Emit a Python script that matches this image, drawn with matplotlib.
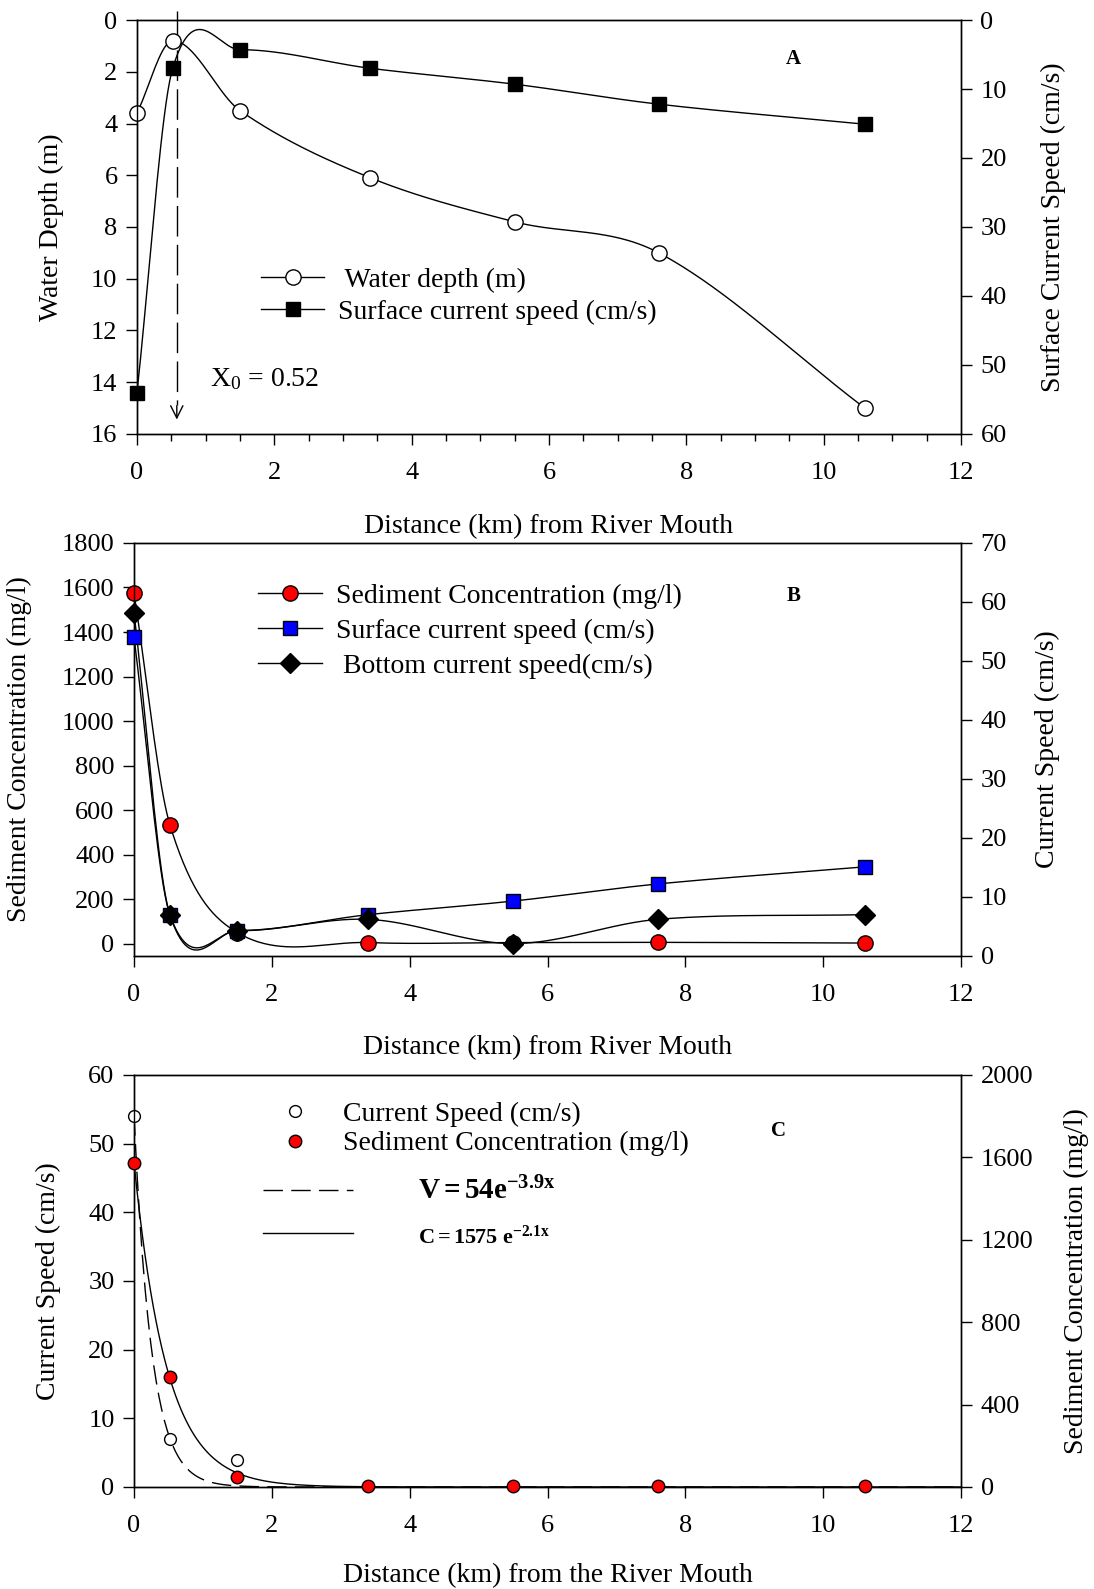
import numpy as np
import matplotlib
matplotlib.use("Agg")
from matplotlib import pyplot as plt
from matplotlib.lines import Line2D

plt.rcParams['font.family'] = ['Liberation Serif', 'DejaVu Serif']
plt.rcParams['mathtext.fontset'] = 'custom'
plt.rcParams['mathtext.rm'] = 'Liberation Serif'
plt.rcParams['mathtext.bf'] = 'Liberation Serif:bold'
plt.rcParams['mathtext.it'] = 'Liberation Serif:italic'
plt.rcParams['axes.linewidth'] = 1.0

# stations (km from river mouth)
dist = [0, 0.52, 1.5, 3.4, 5.5, 7.6, 10.6]
depth = [3.6, 0.8, 3.5, 6.1, 7.8, 9.0, 15.0]
surf_speed = [54, 7, 4.3, 7, 9.3, 12.2, 15.1]
bott_speed = [58.2, 7, 4.3, 6.2, 2.1, 6.2, 7]
sediment = [1575, 535, 50, 5, 5, 6, 3]

# panel C
dist_v = [0, 0.52, 1.5]
speed_c = [54, 7, 4]
v0, kv = 54, 3.9
c0, kc = 1575, 2.1
x0 = 0.58

TICK = 19
LAB = 20


def spline(x, y, n=400):
    # cubic hermite through the points, tangents from neighbours
    x = np.asarray(x, float)
    y = np.asarray(y, float)
    k = len(x)
    m = np.empty(k)
    m[0] = (y[1] - y[0]) / (x[1] - x[0])
    m[-1] = (y[-1] - y[-2]) / (x[-1] - x[-2])
    m[1:-1] = (y[2:] - y[:-2]) / (x[2:] - x[:-2])
    xs = np.linspace(x[0], x[-1], n)
    idx = np.clip(np.searchsorted(x, xs) - 1, 0, k - 2)
    h = x[idx + 1] - x[idx]
    t = (xs - x[idx]) / h
    h00 = 2 * t**3 - 3 * t**2 + 1
    h10 = t**3 - 2 * t**2 + t
    h01 = -2 * t**3 + 3 * t**2
    h11 = t**3 - t**2
    ys = h00 * y[idx] + h10 * h * m[idx] + h01 * y[idx + 1] + h11 * h * m[idx + 1]
    return xs, ys


def style(ax, ax2):
    for a in (ax, ax2):
        a.tick_params(direction='out', length=8, width=1, labelsize=TICK, pad=6)
    ax.tick_params(axis='x', pad=12)
    ax.set_xlim(0, 12)
    ax.set_xticks(range(0, 13, 2))


fig = plt.figure(figsize=(10.94, 15.89), dpi=100)

# ---------------- A ----------------
axA = fig.add_axes([0.1252, 0.7269, 0.7532, 0.2605])
axA2 = axA.twinx()
style(axA, axA2)
axA.set_xticks(np.arange(0, 12.01, 0.5), minor=True)
axA.tick_params(axis='x', which='minor', direction='out', length=5, width=1)
axA.set_ylim(16, 0)
axA.set_yticks(range(0, 17, 2))
axA2.set_ylim(60, 0)
axA2.set_yticks(range(0, 61, 10))

xs, ys = spline(dist, depth)
axA.plot(xs, ys, color='k', lw=1, zorder=2)
axA.plot(dist, depth, 'o', ms=11, mfc='white', mec='k', mew=1, zorder=3, clip_on=False)
xs, ys = spline(dist, surf_speed)
axA2.plot(xs, ys, color='k', lw=1, zorder=2)
axA2.plot(dist, surf_speed, 's', ms=10, mfc='k', mec='k', zorder=3, clip_on=False)

axA.plot([x0, x0], [-0.35, 14.9], color='k', lw=1, ls=(0, (22, 6)), clip_on=False, zorder=1)
axA.annotate('', xy=(x0, 15.55), xytext=(x0, 14.8),
             arrowprops=dict(arrowstyle='->', lw=1, color='k', mutation_scale=22))
axA.text(1.06, 13.9, r'X$_\mathrm{0}$ = 0.52', fontsize=LAB, va='center')
axA.text(0.797, 0.906, 'A', transform=axA.transAxes, fontsize=15, fontweight='bold', ha='center', va='center')

hA = [Line2D([], [], color='k', lw=1, marker='o', ms=11, mfc='white', mec='k'),
      Line2D([], [], color='k', lw=1, marker='s', ms=10, mfc='k', mec='k')]
axA2.legend(hA, [' Water depth (m)', 'Surface current speed (cm/s)'], loc='center left',
            bbox_to_anchor=(0.150, 0.333), frameon=False, fontsize=LAB, borderpad=0,
            borderaxespad=0, handlelength=2.3, handletextpad=0.5, labelspacing=0.25)

axA.set_xlabel('Distance (km) from River Mouth', fontsize=LAB, va='center')
axA.xaxis.set_label_coords(0.5, -0.225)
axA.set_ylabel('Water Depth (m)', fontsize=LAB, va='center')
axA.yaxis.set_label_coords(-0.104, 0.5)
axA2.set_ylabel('Surface Current Speed (cm/s)', fontsize=LAB, va='center')
axA2.yaxis.set_label_coords(1.112, 0.5)

# ---------------- B ----------------
axB = fig.add_axes([0.1225, 0.3984, 0.756, 0.2599])
axB2 = axB.twinx()
style(axB, axB2)
axB.set_ylim(-55, 1800)
axB.set_yticks(range(0, 1801, 200))
axB2.set_ylim(0, 70)
axB2.set_yticks(range(0, 71, 10))

xs, ys = spline(dist, sediment)
axB.plot(xs, ys, color='k', lw=1, zorder=2)
axB.plot(dist, sediment, 'o', ms=11, mfc='red', mec='k', mew=1, zorder=3, clip_on=False)
xs, ys = spline(dist, surf_speed)
axB2.plot(xs, ys, color='k', lw=1, zorder=2)
axB2.plot(dist, surf_speed, 's', ms=10, mfc='blue', mec='k', mew=1, zorder=3, clip_on=False)
xs, ys = spline(dist, bott_speed)
axB2.plot(xs, ys, color='k', lw=1, zorder=2)
axB2.plot(dist, bott_speed, 'D', ms=10, mfc='k', mec='k', zorder=4, clip_on=False)

axB.text(0.798, 0.872, 'B', transform=axB.transAxes, fontsize=15, fontweight='bold', ha='center', va='center')
hB = [Line2D([], [], color='k', lw=1, marker='o', ms=11, mfc='red', mec='k'),
      Line2D([], [], color='k', lw=1, marker='s', ms=10, mfc='blue', mec='k'),
      Line2D([], [], color='k', lw=1, marker='D', ms=10, mfc='k', mec='k')]
axB2.legend(hB, ['Sediment Concentration (mg/l)', 'Surface current speed (cm/s)',
                 ' Bottom current speed(cm/s)'], loc='center left',
            bbox_to_anchor=(0.150, 0.787), frameon=False, fontsize=LAB, borderpad=0,
            borderaxespad=0, handlelength=2.3, handletextpad=0.5, labelspacing=0.34)

axB.set_xlabel('Distance (km) from River Mouth', fontsize=LAB, va='center')
axB.xaxis.set_label_coords(0.5, -0.222)
axB.set_ylabel('Sediment Concentration (mg/l)', fontsize=LAB, va='center')
axB.yaxis.set_label_coords(-0.138, 0.5)
axB2.set_ylabel('Current Speed (cm/s)', fontsize=LAB, va='center')
axB2.yaxis.set_label_coords(1.105, 0.5)

# ---------------- C ----------------
axC = fig.add_axes([0.1225, 0.0642, 0.756, 0.2593])
axC2 = axC.twinx()
style(axC, axC2)
axC.set_ylim(0, 60)
axC.set_yticks(range(0, 61, 10))
axC2.set_ylim(0, 2000)
axC2.set_yticks(range(0, 2001, 400))

xf = np.linspace(0, 12, 600)
axC.plot(xf, v0 * np.exp(-kv * xf), color='k', lw=1, ls=(0, (14, 6)), zorder=2)
axC.plot(dist_v, speed_c, 'o', ms=8.5, mfc='white', mec='k', mew=1, zorder=3, clip_on=False)
axC2.plot(xf, c0 * np.exp(-kc * xf), color='k', lw=1, zorder=2)
axC2.plot(dist, sediment, 'o', ms=9, mfc='red', mec='k', mew=1, zorder=3, clip_on=False)

axC.text(0.779, 0.864, 'C', transform=axC.transAxes, fontsize=15, fontweight='bold', ha='center', va='center')
hC = [Line2D([], [], ls='none', marker='o', ms=8.5, mfc='white', mec='k'),
      Line2D([], [], ls='none', marker='o', ms=9, mfc='red', mec='k')]
legC = axC2.legend(hC, ['Current Speed (cm/s)', 'Sediment Concentration (mg/l)'], loc='center left',
                   bbox_to_anchor=(0.175, 0.869), frameon=False, fontsize=LAB, borderpad=0,
                   borderaxespad=0, handlelength=1.2, handletextpad=1.1, labelspacing=0.15)
axC2.add_artist(legC)
hF = [Line2D([], [], color='k', lw=1, ls=(0, (14, 6))), Line2D([], [], color='k', lw=1)]
legF = axC2.legend(hF, [r'$\mathbf{V = 54e}^{\mathbf{-3.9x}}$', r'$\mathbf{C = 1575\ e}^{\mathbf{-2.1x}}$'],
                   loc='center left', bbox_to_anchor=(0.156, 0.665), frameon=False, fontsize=21,
                   borderpad=0, borderaxespad=0, handlelength=3.1, handletextpad=2.2, labelspacing=0.6)
legF.get_texts()[1].set_fontsize(16)

axC.set_xlabel('Distance (km) from the River Mouth', fontsize=LAB, va='center')
axC.xaxis.set_label_coords(0.5, -0.215)
axC.set_ylabel('Current Speed (cm/s)', fontsize=LAB, va='center')
axC.yaxis.set_label_coords(-0.103, 0.5)
axC2.set_ylabel('Sediment Concentration (mg/l)', fontsize=LAB, va='center')
axC2.yaxis.set_label_coords(1.139, 0.5)

fig.savefig('out.png', dpi=100)
